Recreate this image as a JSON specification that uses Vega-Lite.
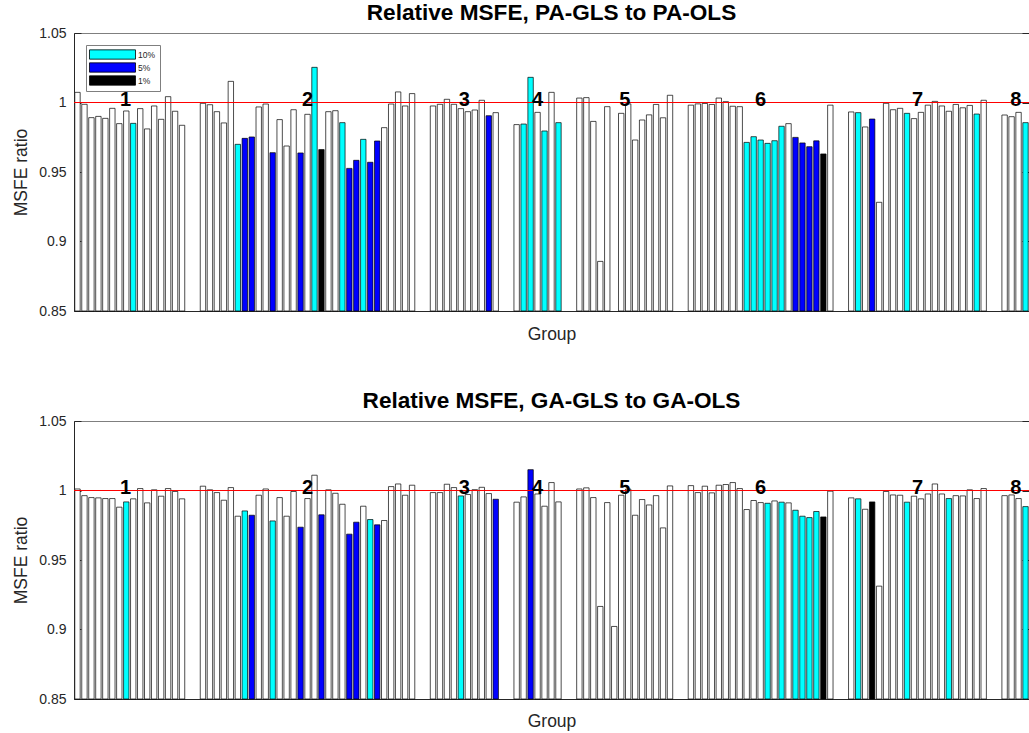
{
  "$schema": "https://vega.github.io/schema/vega-lite/v6.json",
  "padding": {"left": 12, "top": 1, "right": 3, "bottom": 2},
  "background": "white",
  "config": {
    "font": "Liberation Sans",
    "view": {"stroke": "#7f7f7f", "strokeWidth": 1},
    "axis": {"labelFont": "Liberation Sans", "titleFont": "Liberation Sans", "labelColor": "#262626", "titleColor": "#262626", "domainColor": "#262626", "tickColor": "#262626", "grid": false}
  },
  "datasets": {
    "pa": [
      {"slot":0,"value":1.0073,"sig":"none"},{"slot":1,"value":0.9987,"sig":"none"},{"slot":2,"value":0.9891,"sig":"none"},{"slot":3,"value":0.9900,"sig":"none"},{"slot":4,"value":0.9886,"sig":"none"},{"slot":5,"value":0.9958,"sig":"none"},{"slot":6,"value":0.9848,"sig":"none"},{"slot":7,"value":0.9939,"sig":"none"},{"slot":8,"value":0.9850,"sig":"10%"},{"slot":9,"value":0.9956,"sig":"none"},{"slot":10,"value":0.9810,"sig":"none"},{"slot":11,"value":0.9975,"sig":"none"},{"slot":12,"value":0.9879,"sig":"none"},{"slot":13,"value":1.0042,"sig":"none"},{"slot":14,"value":0.9937,"sig":"none"},{"slot":15,"value":0.9836,"sig":"none"},
      {"slot":18,"value":0.9994,"sig":"none"},{"slot":19,"value":0.9984,"sig":"none"},{"slot":20,"value":0.9934,"sig":"none"},{"slot":21,"value":0.9853,"sig":"none"},{"slot":22,"value":1.0152,"sig":"none"},{"slot":23,"value":0.9699,"sig":"10%"},{"slot":24,"value":0.9742,"sig":"5%"},{"slot":25,"value":0.9752,"sig":"5%"},{"slot":26,"value":0.9968,"sig":"none"},{"slot":27,"value":0.9989,"sig":"none"},{"slot":28,"value":0.9639,"sig":"5%"},{"slot":29,"value":0.9877,"sig":"none"},{"slot":30,"value":0.9687,"sig":"none"},{"slot":31,"value":0.9948,"sig":"none"},{"slot":32,"value":0.9637,"sig":"5%"},{"slot":33,"value":0.9915,"sig":"none"},{"slot":34,"value":1.0253,"sig":"10%"},{"slot":35,"value":0.9661,"sig":"1%"},{"slot":36,"value":0.9934,"sig":"none"},{"slot":37,"value":0.9941,"sig":"none"},{"slot":38,"value":0.9855,"sig":"10%"},{"slot":39,"value":0.9526,"sig":"5%"},{"slot":40,"value":0.9584,"sig":"5%"},{"slot":41,"value":0.9735,"sig":"10%"},{"slot":42,"value":0.9570,"sig":"5%"},{"slot":43,"value":0.9723,"sig":"5%"},{"slot":44,"value":0.9819,"sig":"none"},{"slot":45,"value":0.9989,"sig":"none"},{"slot":46,"value":1.0076,"sig":"none"},{"slot":47,"value":0.9975,"sig":"none"},{"slot":48,"value":1.0064,"sig":"none"},
      {"slot":51,"value":0.9975,"sig":"none"},{"slot":52,"value":0.9987,"sig":"none"},{"slot":53,"value":1.0023,"sig":"none"},{"slot":54,"value":0.9987,"sig":"none"},{"slot":55,"value":0.9956,"sig":"none"},{"slot":56,"value":0.9934,"sig":"none"},{"slot":57,"value":0.9946,"sig":"none"},{"slot":58,"value":1.0016,"sig":"none"},{"slot":59,"value":0.9905,"sig":"5%"},{"slot":60,"value":0.9927,"sig":"none"},
      {"slot":63,"value":0.9841,"sig":"none"},{"slot":64,"value":0.9845,"sig":"10%"},{"slot":65,"value":1.0181,"sig":"10%"},{"slot":66,"value":0.9929,"sig":"none"},{"slot":67,"value":0.9795,"sig":"10%"},{"slot":68,"value":1.0073,"sig":"none"},{"slot":69,"value":0.9855,"sig":"10%"},
      {"slot":72,"value":1.0032,"sig":"none"},{"slot":73,"value":1.0035,"sig":"none"},{"slot":74,"value":0.9864,"sig":"none"},{"slot":75,"value":0.8857,"sig":"none"},{"slot":76,"value":0.9970,"sig":"none"},{"slot":78,"value":0.9922,"sig":"none"},{"slot":79,"value":0.9990,"sig":"none"},{"slot":80,"value":0.9730,"sig":"none"},{"slot":81,"value":0.9874,"sig":"none"},{"slot":82,"value":0.9911,"sig":"none"},{"slot":83,"value":0.9986,"sig":"none"},{"slot":84,"value":0.9890,"sig":"none"},{"slot":85,"value":1.0052,"sig":"none"},
      {"slot":88,"value":0.9981,"sig":"none"},{"slot":89,"value":0.9990,"sig":"none"},{"slot":90,"value":0.9993,"sig":"none"},{"slot":91,"value":0.9986,"sig":"none"},{"slot":92,"value":1.0032,"sig":"none"},{"slot":93,"value":1.0006,"sig":"none"},{"slot":94,"value":0.9973,"sig":"none"},{"slot":95,"value":0.9970,"sig":"none"},{"slot":96,"value":0.9713,"sig":"10%"},{"slot":97,"value":0.9754,"sig":"10%"},{"slot":98,"value":0.9730,"sig":"10%"},{"slot":99,"value":0.9706,"sig":"10%"},{"slot":100,"value":0.9725,"sig":"10%"},{"slot":101,"value":0.9829,"sig":"10%"},{"slot":102,"value":0.9848,"sig":"none"},{"slot":103,"value":0.9749,"sig":"5%"},{"slot":104,"value":0.9709,"sig":"5%"},{"slot":105,"value":0.9682,"sig":"5%"},{"slot":106,"value":0.9724,"sig":"5%"},{"slot":107,"value":0.9630,"sig":"1%"},{"slot":108,"value":0.9981,"sig":"none"},
      {"slot":111,"value":0.9932,"sig":"none"},{"slot":112,"value":0.9927,"sig":"10%"},{"slot":113,"value":0.9824,"sig":"none"},{"slot":114,"value":0.9881,"sig":"5%"},{"slot":115,"value":0.9282,"sig":"none"},{"slot":116,"value":0.9994,"sig":"none"},{"slot":117,"value":0.9948,"sig":"none"},{"slot":118,"value":0.9958,"sig":"none"},{"slot":119,"value":0.9922,"sig":"10%"},{"slot":120,"value":0.9884,"sig":"none"},{"slot":121,"value":0.9929,"sig":"none"},{"slot":122,"value":0.9981,"sig":"none"},{"slot":123,"value":1.0008,"sig":"none"},{"slot":124,"value":0.9975,"sig":"none"},{"slot":125,"value":0.9937,"sig":"none"},{"slot":126,"value":0.9986,"sig":"none"},{"slot":127,"value":0.9962,"sig":"none"},{"slot":128,"value":0.9979,"sig":"none"},{"slot":129,"value":0.9917,"sig":"10%"},{"slot":130,"value":1.0016,"sig":"none"},
      {"slot":133,"value":0.9910,"sig":"none"},{"slot":134,"value":0.9898,"sig":"none"},{"slot":135,"value":0.9929,"sig":"none"},{"slot":136,"value":0.9855,"sig":"10%"}
    ],
    "ga": [
      {"slot":0,"value":1.0011,"sig":"none"},{"slot":1,"value":0.9963,"sig":"none"},{"slot":2,"value":0.9949,"sig":"none"},{"slot":3,"value":0.9947,"sig":"none"},{"slot":4,"value":0.9942,"sig":"none"},{"slot":5,"value":0.9942,"sig":"none"},{"slot":6,"value":0.9880,"sig":"none"},{"slot":7,"value":0.9918,"sig":"10%"},{"slot":8,"value":0.9940,"sig":"none"},{"slot":9,"value":1.0014,"sig":"none"},{"slot":10,"value":0.9911,"sig":"none"},{"slot":11,"value":1.0005,"sig":"none"},{"slot":12,"value":0.9959,"sig":"none"},{"slot":13,"value":1.0014,"sig":"none"},{"slot":14,"value":0.9993,"sig":"none"},{"slot":15,"value":0.9940,"sig":"none"},
      {"slot":18,"value":1.0031,"sig":"none"},{"slot":19,"value":1.0005,"sig":"none"},{"slot":20,"value":0.9985,"sig":"none"},{"slot":21,"value":0.9930,"sig":"none"},{"slot":22,"value":1.0021,"sig":"none"},{"slot":23,"value":0.9815,"sig":"none"},{"slot":24,"value":0.9853,"sig":"10%"},{"slot":25,"value":0.9822,"sig":"5%"},{"slot":26,"value":0.9966,"sig":"none"},{"slot":27,"value":1.0011,"sig":"none"},{"slot":28,"value":0.9781,"sig":"10%"},{"slot":29,"value":0.9949,"sig":"none"},{"slot":30,"value":0.9815,"sig":"none"},{"slot":31,"value":0.9993,"sig":"none"},{"slot":32,"value":0.9736,"sig":"5%"},{"slot":33,"value":0.9942,"sig":"none"},{"slot":34,"value":1.0110,"sig":"none"},{"slot":35,"value":0.9825,"sig":"5%"},{"slot":36,"value":1.0005,"sig":"none"},{"slot":37,"value":0.9980,"sig":"none"},{"slot":38,"value":0.9901,"sig":"none"},{"slot":39,"value":0.9686,"sig":"5%"},{"slot":40,"value":0.9772,"sig":"5%"},{"slot":41,"value":0.9887,"sig":"none"},{"slot":42,"value":0.9791,"sig":"10%"},{"slot":43,"value":0.9753,"sig":"5%"},{"slot":44,"value":0.9784,"sig":"none"},{"slot":45,"value":1.0028,"sig":"none"},{"slot":46,"value":1.0047,"sig":"none"},{"slot":47,"value":0.9966,"sig":"none"},{"slot":48,"value":1.0038,"sig":"none"},
      {"slot":51,"value":0.9985,"sig":"none"},{"slot":52,"value":0.9985,"sig":"none"},{"slot":53,"value":1.0045,"sig":"none"},{"slot":54,"value":1.0021,"sig":"none"},{"slot":55,"value":0.9961,"sig":"10%"},{"slot":56,"value":0.9971,"sig":"none"},{"slot":57,"value":1.0006,"sig":"none"},{"slot":58,"value":1.0023,"sig":"none"},{"slot":59,"value":0.9978,"sig":"none"},{"slot":60,"value":0.9937,"sig":"5%"},
      {"slot":63,"value":0.9916,"sig":"none"},{"slot":64,"value":0.9954,"sig":"none"},{"slot":65,"value":1.0150,"sig":"5%"},{"slot":66,"value":0.9975,"sig":"none"},{"slot":67,"value":0.9887,"sig":"none"},{"slot":68,"value":1.0057,"sig":"none"},{"slot":69,"value":0.9918,"sig":"none"},
      {"slot":72,"value":1.0011,"sig":"none"},{"slot":73,"value":1.0019,"sig":"none"},{"slot":74,"value":0.9949,"sig":"none"},{"slot":75,"value":0.9166,"sig":"none"},{"slot":76,"value":0.9913,"sig":"none"},{"slot":77,"value":0.9022,"sig":"none"},{"slot":78,"value":0.9966,"sig":"none"},{"slot":79,"value":1.0010,"sig":"none"},{"slot":80,"value":0.9822,"sig":"none"},{"slot":81,"value":0.9935,"sig":"none"},{"slot":82,"value":0.9896,"sig":"none"},{"slot":83,"value":0.9963,"sig":"none"},{"slot":84,"value":0.9731,"sig":"none"},{"slot":85,"value":1.0033,"sig":"none"},
      {"slot":88,"value":1.0035,"sig":"none"},{"slot":89,"value":0.9985,"sig":"none"},{"slot":90,"value":1.0031,"sig":"none"},{"slot":91,"value":0.9983,"sig":"none"},{"slot":92,"value":1.0038,"sig":"none"},{"slot":93,"value":1.0043,"sig":"none"},{"slot":94,"value":1.0057,"sig":"none"},{"slot":95,"value":1.0014,"sig":"none"},{"slot":96,"value":0.9863,"sig":"none"},{"slot":97,"value":0.9928,"sig":"none"},{"slot":98,"value":0.9913,"sig":"none"},{"slot":99,"value":0.9908,"sig":"10%"},{"slot":100,"value":0.9925,"sig":"none"},{"slot":101,"value":0.9916,"sig":"10%"},{"slot":102,"value":0.9911,"sig":"none"},{"slot":103,"value":0.9858,"sig":"10%"},{"slot":104,"value":0.9815,"sig":"10%"},{"slot":105,"value":0.9805,"sig":"10%"},{"slot":106,"value":0.9849,"sig":"10%"},{"slot":107,"value":0.9810,"sig":"1%"},{"slot":108,"value":0.9995,"sig":"none"},
      {"slot":111,"value":0.9947,"sig":"none"},{"slot":112,"value":0.9940,"sig":"10%"},{"slot":113,"value":0.9865,"sig":"none"},{"slot":114,"value":0.9918,"sig":"1%"},{"slot":115,"value":0.9312,"sig":"none"},{"slot":116,"value":0.9993,"sig":"none"},{"slot":117,"value":0.9968,"sig":"none"},{"slot":118,"value":0.9966,"sig":"none"},{"slot":119,"value":0.9916,"sig":"10%"},{"slot":120,"value":0.9959,"sig":"none"},{"slot":121,"value":0.9940,"sig":"none"},{"slot":122,"value":0.9975,"sig":"none"},{"slot":123,"value":1.0047,"sig":"none"},{"slot":124,"value":0.9975,"sig":"none"},{"slot":125,"value":0.9942,"sig":"10%"},{"slot":126,"value":0.9963,"sig":"none"},{"slot":127,"value":0.9961,"sig":"none"},{"slot":128,"value":1.0005,"sig":"none"},{"slot":129,"value":0.9942,"sig":"none"},{"slot":130,"value":1.0014,"sig":"none"},
      {"slot":133,"value":0.9963,"sig":"none"},{"slot":134,"value":0.9968,"sig":"none"},{"slot":135,"value":0.9942,"sig":"none"},{"slot":136,"value":0.9884,"sig":"10%"}
    ],
    "groups": [
      {"group":"1","center":6.9},{"group":"2","center":33},{"group":"3","center":55.5},{"group":"4","center":66},
      {"group":"5","center":78.5},{"group":"6","center":98},{"group":"7","center":120.5},{"group":"8","center":134.6}
    ]
  },
  "spacing": 46,
  "resolve": {"legend": {"fill": "independent"}},
  "vconcat": [
    {
      "width": 955, "height": 278,
      "title": {"text": "Relative MSFE, PA-GLS to PA-OLS", "fontSize": 22.6, "fontWeight": "bold", "color": "#000000", "frame": "group", "anchor": "middle", "offset": 1},
      "layer": [
        {
          "data": {"name": "pa"},
          "mark": {"type": "bar", "size": 5.4, "stroke": "#000000", "strokeWidth": 0.7},
          "encoding": {
            "x": {"field": "slot", "type": "quantitative", "scale": {"domain": [-0.5, 136.5], "nice": false, "zero": false, "padding": 0},
                  "axis": {"orient": "bottom", "labels": false, "ticks": false, "title": "Group", "titleFontSize": 17.5, "titleFontWeight": "normal", "titlePadding": 14}},
            "y": {"field": "value", "type": "quantitative", "scale": {"domain": [0.85, 1.05], "nice": false, "zero": false, "padding": 0},
                  "axis": {"orient": "left", "values": [0.85, 0.9, 0.95, 1, 1.05], "format": "~g", "labelFontSize": 14, "tickSize": -7, "labelPadding": 15, "title": "MSFE ratio", "titleFontSize": 17.5, "titleFontWeight": "normal", "titlePadding": 8}},
            "y2": {"datum": 0.85},
            "fill": {"field": "sig", "type": "nominal",
                     "scale": {"domain": ["10%", "5%", "1%", "none"], "range": ["#00FFFF", "#0000FF", "#000000", "#FFFFFF"]},
                     "legend": {"values": ["10%", "5%", "1%"], "title": null, "orient": "top-left", "offset": 12, "fillColor": "#FFFFFF", "strokeColor": "#7f7f7f", "padding": 4, "symbolType": "M-4.6,-0.93H4.6V0.93H-4.6Z", "symbolSize": 100, "symbolOffset": 17, "symbolStrokeColor": "#000000", "symbolStrokeWidth": 0.8, "labelFontSize": 8.5, "labelOffset": 20, "rowPadding": 0, "labelColor": "#262626"}}
          }
        },
        {
          "data": {"values": [{}]},
          "mark": {"type": "rule", "color": "#FF0000", "strokeWidth": 1},
          "encoding": {"y": {"datum": 1, "type": "quantitative", "scale": {"domain": [0.85, 1.05]}, "axis": {"orient": "right", "values": [0.85, 0.9, 0.95, 1, 1.05], "labels": false, "tickSize": -7, "title": null}}}
        },
        {
          "data": {"name": "groups"},
          "mark": {"type": "text", "fontSize": 20, "fontWeight": "bold", "baseline": "alphabetic", "dy": 3, "color": "#000000"},
          "encoding": {
            "x": {"field": "center", "type": "quantitative", "axis": null},
            "y": {"datum": 1, "type": "quantitative", "axis": null},
            "text": {"field": "group"}
          }
        }
      ],
      "resolve": {"axis": {"x": "independent", "y": "independent"}}
    },
    {
      "width": 955, "height": 278,
      "title": {"text": "Relative MSFE, GA-GLS to GA-OLS", "fontSize": 22.6, "fontWeight": "bold", "color": "#000000", "frame": "group", "anchor": "middle", "offset": 1},
      "layer": [
        {
          "data": {"name": "ga"},
          "mark": {"type": "bar", "size": 5.4, "stroke": "#000000", "strokeWidth": 0.7},
          "encoding": {
            "x": {"field": "slot", "type": "quantitative", "scale": {"domain": [-0.5, 136.5], "nice": false, "zero": false, "padding": 0},
                  "axis": {"orient": "bottom", "labels": false, "ticks": false, "title": "Group", "titleFontSize": 17.5, "titleFontWeight": "normal", "titlePadding": 13}},
            "y": {"field": "value", "type": "quantitative", "scale": {"domain": [0.85, 1.05], "nice": false, "zero": false, "padding": 0},
                  "axis": {"orient": "left", "values": [0.85, 0.9, 0.95, 1, 1.05], "format": "~g", "labelFontSize": 14, "tickSize": -7, "labelPadding": 15, "title": "MSFE ratio", "titleFontSize": 17.5, "titleFontWeight": "normal", "titlePadding": 8}},
            "y2": {"datum": 0.85},
            "fill": {"field": "sig", "type": "nominal",
                     "scale": {"domain": ["10%", "5%", "1%", "none"], "range": ["#00FFFF", "#0000FF", "#000000", "#FFFFFF"]},
                     "legend": null}
          }
        },
        {
          "data": {"values": [{}]},
          "mark": {"type": "rule", "color": "#FF0000", "strokeWidth": 1},
          "encoding": {"y": {"datum": 1, "type": "quantitative", "scale": {"domain": [0.85, 1.05]}, "axis": {"orient": "right", "values": [0.85, 0.9, 0.95, 1, 1.05], "labels": false, "tickSize": -7, "title": null}}}
        },
        {
          "data": {"name": "groups"},
          "mark": {"type": "text", "fontSize": 20, "fontWeight": "bold", "baseline": "alphabetic", "dy": 3, "color": "#000000"},
          "encoding": {
            "x": {"field": "center", "type": "quantitative", "axis": null},
            "y": {"datum": 1, "type": "quantitative", "axis": null},
            "text": {"field": "group"}
          }
        }
      ],
      "resolve": {"axis": {"x": "independent", "y": "independent"}}
    }
  ]
}
